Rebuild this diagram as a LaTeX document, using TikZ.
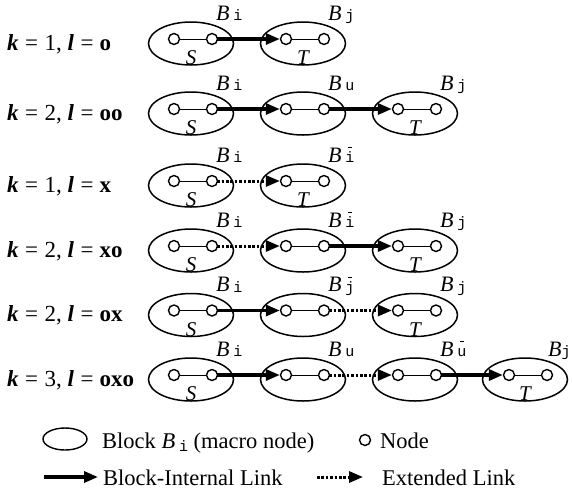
\documentclass[tikz,border=0pt]{standalone}
\usepackage{fontspec}
\setmainfont{Liberation Serif}
\setmonofont{Liberation Mono}
\usetikzlibrary{shapes.geometric,arrows.meta}
\tikzset{
  blk/.style={draw, ellipse, line width=1.5pt, minimum width=85pt, minimum height=43pt, inner sep=0pt},
  nd/.style={draw, circle, line width=1.4pt, minimum size=11pt, inner sep=0pt, fill=white},
  inner/.style={line width=1pt},
  solidlink/.style={line width=3.2pt, -{Triangle[length=14pt,width=11pt]}, shorten <=-1pt},
  dotlink/.style={line width=3pt, dash pattern=on 2.6pt off 1.8pt, -{Triangle[length=14pt,width=11pt]}, shorten <=-1pt},
  blab/.style={inner sep=0pt, anchor=base west, font=\fontsize{22}{24}\selectfont},
  stlab/.style={inner sep=0pt, font=\fontsize{21}{24}\selectfont\itshape},
  rowlab/.style={inner sep=0pt, anchor=base west, font=\fontsize{23}{26}\selectfont},
  leglab/.style={inner sep=0pt, anchor=base west, font=\fontsize{22.5}{26}\selectfont}
}
\newcommand\Sb[1]{{\fontsize{15}{16}\selectfont\ttfamily #1}}
\newcommand\Sbar[1]{\ooalign{\Sb{#1}\cr\hidewidth\raisebox{14.5pt}{\rule{4pt}{0.9pt}}\hidewidth}}
% #1 name, #2 ellipse centre x, #3 node y, #4 subscript
\newcommand\Blk[4]{%
  \node[blk] (#1) at (#2, #3+4.5) {};
  \node[nd] (#1a) at (#2-17, #3) {};
  \node[nd] (#1b) at (#2+21, #3) {};
  \draw[inner] (#1a) -- (#1b);
  \node[blab] (#1l) at (#2+25, #3-19) {\textit{B}\,\raisebox{-0.5pt}{#4}};
}
\newcommand\RowLab[4]{%
  \node[rowlab] (#1) at (7, #2+11) {\textbf{\textit{k}}\hspace{6.5pt}=\hspace{6.5pt}#3, \textbf{\textit{l}}\hspace{6.5pt}=\hspace{6pt}\textbf{#4}};
}
\begin{document}
\begin{tikzpicture}[x=1pt,y=-1pt]
\fill[white] (0,0) rectangle (572,491);
\useasboundingbox (0,0) rectangle (572,491);
% Row 1
\RowLab{L1}{39}{1}{o}
\Blk{ra1}{191}{39}{\Sb{i}}
\Blk{ra2}{303}{39}{\Sb{j}}
\node[stlab] (raS) at (191,58) {S};
\node[stlab] (raT) at (303,58) {T};
\draw[solidlink] (ra1b) -- (ra2a);
% Row 2
\RowLab{L2}{109}{2}{oo}
\Blk{rb1}{191}{109}{\Sb{i}}
\Blk{rb2}{303}{109}{\Sb{u}}
\Blk{rb3}{415}{109}{\Sb{j}}
\node[stlab] (rbS) at (191,128) {S};
\node[stlab] (rbT) at (415,128) {T};
\draw[solidlink] (rb1b) -- (rb2a);
\draw[solidlink] (rb2b) -- (rb3a);
% Row 3
\RowLab{L3}{181}{1}{x}
\Blk{rc1}{191}{181}{\Sb{i}}
\Blk{rc2}{303}{181}{\Sbar{i}}
\node[stlab] (rcS) at (191,200) {S};
\node[stlab] (rcT) at (303,200) {T};
\draw[dotlink] (rc1b) -- (rc2a);
% Row 4
\RowLab{L4}{246}{2}{xo}
\Blk{rd1}{191}{246}{\Sb{i}}
\Blk{rd2}{303}{246}{\Sbar{i}}
\Blk{rd3}{415}{246}{\Sb{j}}
\node[stlab] (rdS) at (191,265) {S};
\node[stlab] (rdT) at (415,265) {T};
\draw[dotlink] (rd1b) -- (rd2a);
\draw[solidlink] (rd2b) -- (rd3a);
% Row 5
\RowLab{L5}{310.5}{2}{ox}
\Blk{re1}{191}{310.5}{\Sb{i}}
\Blk{re2}{303}{310.5}{\Sbar{j}}
\Blk{re3}{415}{310.5}{\Sb{j}}
\node[stlab] (reS) at (191,329.5) {S};
\node[stlab] (reT) at (415,329.5) {T};
\draw[solidlink] (re1b) -- (re2a);
\draw[dotlink] (re2b) -- (re3a);
% Row 6
\RowLab{L6}{375}{3}{oxo}
\Blk{rf1}{191}{375}{\Sb{i}}
\Blk{rf2}{303}{375}{\Sb{u}}
\Blk{rf3}{415}{375}{\Sbar{u}}
\node[blk] (rf4) at (525, 379.5) {};
\node[nd] (rf4a) at (509, 375) {};
\node[nd] (rf4b) at (547, 375) {};
\draw[inner] (rf4a) -- (rf4b);
\node[blab] (rf4l) at (548, 356) {\textit{B}\raisebox{-0.5pt}{\Sb{j}}};
\node[stlab] (rfS) at (191,394) {S};
\node[stlab] (rfT) at (525,394) {T};
\draw[solidlink] (rf1b) -- (rf2a);
\draw[dotlink] (rf2b) -- (rf3a);
\draw[solidlink] (rf3b) -- (rf4a);
% Legend
\node[draw, ellipse, line width=1.4pt, minimum width=44pt, minimum height=22pt, inner sep=0pt] (legE) at (65,439) {};
\node[leglab] (legEt) at (102,448) {Block \textit{B}\,\raisebox{-3pt}{\Sb{i}} (macro node)};
\node[nd] (legN) at (365,440) {};
\node[leglab] (legNt) at (380,448) {Node};
\coordinate (legA1) at (45,477);
\coordinate (legA2) at (98,477);
\draw[solidlink] (legA1) -- (legA2);
\node[leglab] (legAt) at (103,485) {Block-Internal Link};
\coordinate (legD1) at (318,477);
\coordinate (legD2) at (363,477);
\draw[dotlink] (legD1) -- (legD2);
\node[leglab] (legDt) at (382,485) {Extended Link};
\end{tikzpicture}
\end{document}
